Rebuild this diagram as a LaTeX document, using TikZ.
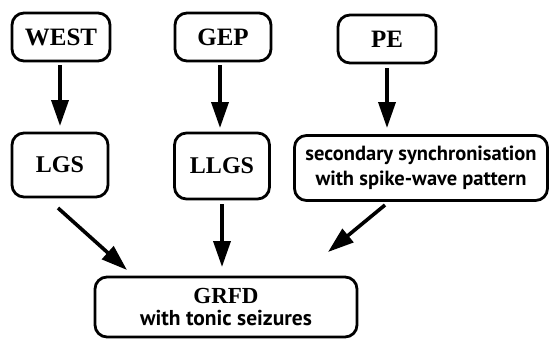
\documentclass[tikz,border=0pt]{standalone}
\usepackage{fontspec}
\setmainfont{Liberation Serif}
\newfontfamily\labelfont{PT Sans}
\usetikzlibrary{arrows.meta}
\begin{document}
\begin{tikzpicture}[x=1pt,y=-1pt,
  box/.style={draw,line width=2.8pt,rounded corners=12pt,inner sep=0pt,align=center},
  bigfont/.style={font=\bfseries\fontsize{25}{28}\selectfont},
  midfont/.style={font=\bfseries\fontsize{24}{28}\selectfont},
  sansfont/.style={font=\labelfont\bfseries\fontsize{20.5}{25}\selectfont},
  arr/.style={line width=3.6pt,-{Triangle[length=26pt,width=17pt]}}]
\useasboundingbox (0,0) rectangle (551,340);
% top row
\node[box,bigfont,minimum width=98pt,minimum height=48pt] (west) at (61,37) {WEST};
\node[box,bigfont,minimum width=96pt,minimum height=48pt] (gep) at (223,37) {GEP};
\node[box,bigfont,minimum width=98pt,minimum height=48pt] (pe) at (387,39) {PE};
% middle row
\node[box,midfont,minimum width=96pt,minimum height=64pt] (lgs) at (60,165) {LGS};
\node[box,midfont,minimum width=95pt,minimum height=66pt] (llgs) at (222,166) {LLGS};
\node[box,sansfont,minimum width=253pt,minimum height=65pt] (sec) at (421,168)
  {secondary synchronisation\\with spike-wave pattern};
% bottom
\node[box,font=\fontsize{22}{22}\selectfont,minimum width=262pt,minimum height=60pt] (grfd) at (226,307)
  {{\rmfamily\bfseries\fontsize{23}{22}\selectfont GRFD}\\
   {\labelfont\bfseries\fontsize{21.5}{22}\selectfont with tonic seizures}};
% connectors
\coordinate (g1) at (127,270);
\coordinate (g3) at (328,252);
\draw[arr] (60,65) -- (60,126);
\draw[arr] (220,65) -- (220,128);
\draw[arr] (387,68) -- (387,128);
\draw[arr] (58,208) -- (g1);
\draw[arr] (222,204) -- (222,267);
\draw[arr] (385,205) -- (g3);
\end{tikzpicture}
\end{document}
